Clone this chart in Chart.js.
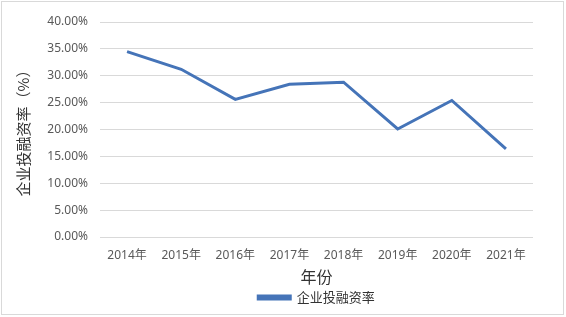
<!DOCTYPE html>
<html>
<head>
<meta charset="utf-8">
<script src="https://cdn.jsdelivr.net/npm/chart.js@4"></script>
<style>
  html, body { margin: 0; padding: 0; background: #fff; }
  #wrap { width: 566px; height: 317px; }
</style>
</head>
<body>
<div id="wrap"><canvas id="rateChart" width="566" height="317"></canvas></div>
<script>
// --- Data ---
const years = ['2014年', '2015年', '2016年', '2017年', '2018年', '2019年', '2020年', '2021年'];
const rates = [0.345, 0.312, 0.256, 0.284, 0.288, 0.201, 0.254, 0.164];
const seriesName = '企业投融资率';
const yTitle = '企业投融资率（%）';
const xTitle = '年份';

const BLUE = '#4574b8';
const TICK_COLOR = '#595959';

// light gray frame round the whole chart
const framePlugin = {
    id: 'frame',
    afterDraw(chart) {
        const c = chart.ctx;
        c.save();
        c.strokeStyle = '#d9d9d9';
        c.lineWidth = 1;
        c.strokeRect(1.5, 1.5, chart.width - 4, chart.height - 4);
        c.restore();
    }
};

const ctx = document.getElementById('rateChart').getContext('2d');
new Chart(ctx, {
    type: 'line',
    data: {
        labels: years,
        datasets: [{
            label: seriesName,
            data: rates,
            borderColor: BLUE,
            backgroundColor: BLUE,
            borderWidth: 3,
            pointRadius: 0,
            tension: 0
        }]
    },
    options: {
        responsive: false,
        animation: false,
        layout: { padding: { top: 22, right: 33, left: 0, bottom: 3 } },
        plugins: {
            legend: {
                position: 'bottom',
                fullSize: false,
                labels: {
                    boxWidth: 32,
                    boxHeight: 3,
                    padding: 4,
                    color: '#333',
                    font: { family: "'Noto Sans CJK SC', 'Noto Sans'", size: 13 }
                }
            },
            tooltip: { enabled: false }
        },
        scales: {
            x: {
                offset: true,
                afterFit(scale) { scale.height = 50; },
                grid: { display: false, drawTicks: false },
                border: { display: false },
                ticks: {
                    color: TICK_COLOR,
                    padding: 11,
                    maxRotation: 0,
                    font: { family: "'Noto Sans', 'Noto Sans CJK SC'", size: 12 }
                },
                title: {
                    display: true,
                    text: xTitle,
                    color: '#333',
                    padding: { top: 2, bottom: 0 },
                    font: { family: "'Noto Sans CJK SC'", size: 16 }
                }
            },
            y: {
                min: 0,
                max: 0.4,
                afterFit(scale) { scale.width = 100; },
                grid: { color: '#d9d9d9', lineWidth: 1, drawTicks: false },
                border: { display: false },
                ticks: {
                    stepSize: 0.05,
                    padding: 12,
                    color: TICK_COLOR,
                    font: { family: "'Noto Sans'", size: 12 },
                    callback: v => (v * 100).toFixed(2) + '%'
                },
                title: {
                    display: true,
                    text: yTitle,
                    color: '#333',
                    padding: { top: 14, bottom: 0 },
                    font: { family: "'Noto Sans CJK SC'", size: 15 }
                }
            }
        }
    },
    plugins: [framePlugin]
});
</script>
</body>
</html>
